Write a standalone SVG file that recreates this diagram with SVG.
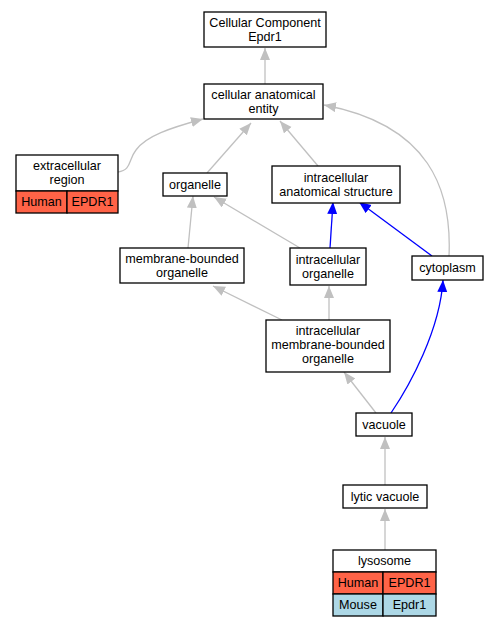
<svg xmlns="http://www.w3.org/2000/svg" width="497" height="627" viewBox="0 0 497 627">
<defs>
<marker id="ag" markerUnits="userSpaceOnUse" markerWidth="14" markerHeight="12" refX="12" refY="5" orient="auto"><path d="M0,0 L12,5 L0,10 Z" fill="#c0c0c0"/></marker>
<marker id="ab" markerUnits="userSpaceOnUse" markerWidth="14" markerHeight="12" refX="12" refY="5" orient="auto"><path d="M0,0 L12,5 L0,10 Z" fill="#0000ff"/></marker>
<style>
.n rect{fill:#fff;stroke:#000;stroke-width:1.3}
text{font-family:"Liberation Sans",Arial,sans-serif;font-size:12.6px;text-anchor:middle;fill:#000}
.g{fill:none;stroke:#c0c0c0;stroke-width:1.3;marker-end:url(#ag)}
.b{fill:none;stroke:#0000ff;stroke-width:1.3;marker-end:url(#ab)}
.hu{fill:#ff6347!important}
.mo{fill:#add8e6!important}
</style>
</defs>
<rect width="497" height="627" fill="#fff"/>
<g id="edges">
<path class="g" d="M265,84 L265,48"/>
<path class="g" d="M118,172 C132,170 128,160 136,150 C146,136 170,128 203,119"/>
<path class="g" d="M207,173 L251,123"/>
<path class="g" d="M318,166 L280,121"/>
<path class="g" d="M449,256 C452,190 430,125 324,105"/>
<path class="g" d="M188,248 L193,196"/>
<path class="g" d="M300,248 L214,197"/>
<path class="b" d="M330,248 L333,202"/>
<path class="b" d="M432,256 L359,202"/>
<path class="g" d="M282,320 L213,286"/>
<path class="g" d="M329,320 L329,286"/>
<path class="g" d="M376,413 L344,372"/>
<path class="b" d="M391,413 C410,385 440,330 443,280"/>
<path class="g" d="M385,485 L385,437"/>
<path class="g" d="M385,550 L385,509"/>
</g>
<g id="n_cc" class="n"><rect x="204" y="12" width="122" height="35"/><text x="265" y="27">Cellular Component</text><text x="265" y="41">Epdr1</text></g>
<g id="n_cae" class="n"><rect x="204" y="84" width="119" height="35"/><text x="263.5" y="99">cellular anatomical</text><text x="263.5" y="113">entity</text></g>
<g id="n_er" class="n"><rect x="16" y="155" width="102" height="36"/><text x="67" y="170">extracellular</text><text x="67" y="184">region</text><rect class="hu" x="16" y="191" width="51" height="22"/><text x="41.5" y="206">Human</text><rect class="hu" x="67" y="191" width="51" height="22"/><text x="92.5" y="206">EPDR1</text></g>
<g id="n_org" class="n"><rect x="163" y="173" width="64" height="23"/><text x="195" y="189">organelle</text></g>
<g id="n_ias" class="n"><rect x="272" y="166" width="128" height="37"/><text x="336" y="182">intracellular</text><text x="336" y="196">anatomical structure</text></g>
<g id="n_mbo" class="n"><rect x="120" y="248" width="124" height="35"/><text x="182" y="263">membrane-bounded</text><text x="182" y="277">organelle</text></g>
<g id="n_io" class="n"><rect x="290" y="248" width="76" height="37"/><text x="328" y="264">intracellular</text><text x="328" y="278">organelle</text></g>
<g id="n_cyt" class="n"><rect x="412" y="256" width="71" height="24"/><text x="447.5" y="272">cytoplasm</text></g>
<g id="n_imbo" class="n"><rect x="266" y="320" width="124" height="52"/><text x="328" y="335">intracellular</text><text x="328" y="349">membrane-bounded</text><text x="328" y="363">organelle</text></g>
<g id="n_vac" class="n"><rect x="356" y="413" width="56" height="23"/><text x="384" y="429">vacuole</text></g>
<g id="n_lv" class="n"><rect x="343" y="485" width="84" height="23"/><text x="385" y="501">lytic vacuole</text></g>
<g id="n_lys" class="n"><rect x="333" y="550" width="103" height="22"/><text x="384.5" y="565">lysosome</text><rect class="hu" x="333" y="572" width="50" height="22"/><text x="358" y="587">Human</text><rect class="hu" x="383" y="572" width="53" height="22"/><text x="409.5" y="587">EPDR1</text><rect class="mo" x="333" y="594" width="50" height="22"/><text x="358" y="609">Mouse</text><rect class="mo" x="383" y="594" width="53" height="22"/><text x="409.5" y="609">Epdr1</text></g>
</svg>
